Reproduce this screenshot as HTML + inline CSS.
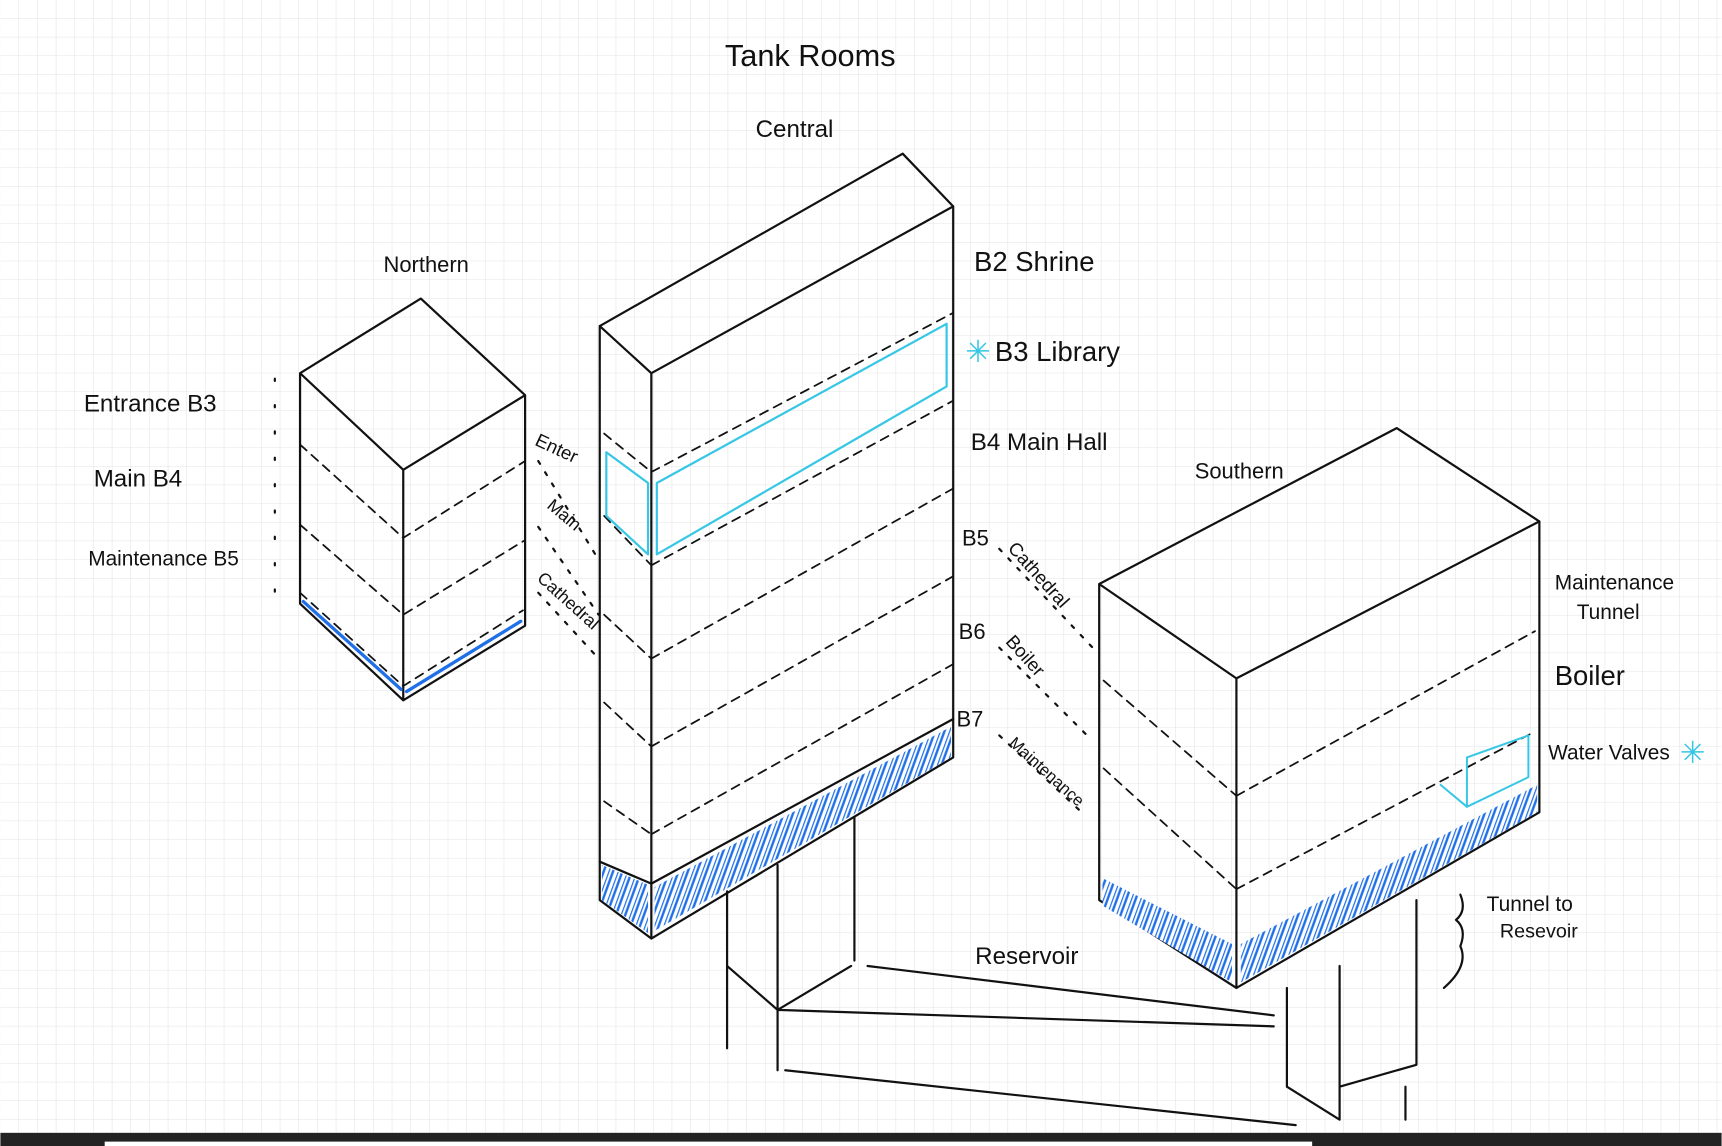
<!DOCTYPE html>
<html><head><meta charset="utf-8"><style>
html,body{margin:0;padding:0;background:#fff;width:1722px;height:1146px;overflow:hidden}
svg{display:block}
text{font-family:"Liberation Sans",sans-serif;fill:#111}
</style></head><body>
<svg width="1722" height="1146" viewBox="0 0 1568 1044" xmlns="http://www.w3.org/2000/svg">
<defs>
<pattern id="g" width="17" height="17" patternUnits="userSpaceOnUse">
<path d="M17 0V17H0" fill="none" stroke="#e3e3e6" stroke-width="1"/>
</pattern>
<pattern id="h" width="8" height="8" patternUnits="userSpaceOnUse" patternTransform="rotate(20)">
<rect width="8" height="8" fill="#fff"/>
<path d="M0 0V8M4 0V8" stroke="#1f6fe8" stroke-width="2.2"/>
</pattern>
</defs>
<rect width="1568" height="1044" fill="#fff"/>
<rect width="1568" height="1044" fill="url(#g)"/>
<rect y="1032" width="1568" height="12" fill="#222"/>
<rect x="95" y="1040" width="1100" height="4" fill="#fff"/>

<g fill="none" stroke="#111" stroke-width="2" stroke-linecap="round" stroke-linejoin="round">
<path d="M273 340L383 272L478 360L367 428ZM273 340V550L367 638V428M478 360V570L367 638"/>
<g stroke-dasharray="8 6" stroke-width="1.6">
<path d="M273 405L367 490L478 420M273 478L367 560L478 492M273 540L367 625L476 556"/>
</g>
<path d="M276 548L365 628M370 630L474 566" stroke="#1f6fe8" stroke-width="3"/>
<path d="M250 345V550" stroke-dasharray="2 22"/>

<path d="M546 297L822 140L868 188L593 340ZM546 297V820L593 855V340M868 188V690L593 855"/>
<path d="M546 785L593 805L868 655"/>
<polygon points="596,808 866,662 866,690 596,848" fill="url(#h)" stroke="none"/>
<polygon points="548,788 590,806 590,850 548,820" fill="url(#h)" stroke="none"/>
<g stroke-dasharray="8 6" stroke-width="1.6">
<path d="M593 430L868 285M593 515L868 365M593 600L868 445M593 680L868 525M593 760L868 605"/>
<path d="M550 395L593 430M550 470L593 515M550 560L593 600M550 640L593 680M550 730L593 760"/>
</g>
<path d="M598 440L862 295V352L598 505ZM552 412L590 440V505L552 470Z" stroke="#36c6e6" stroke-width="2"/>

<path d="M1001 532L1272 390L1402 475L1126 618ZM1001 532V820L1126 900V618M1402 475V740L1126 900"/>
<polygon points="1130,860 1400,715 1400,740 1130,895" fill="url(#h)" stroke="none"/>
<polygon points="1004,800 1122,860 1122,895 1004,825" fill="url(#h)" stroke="none"/>
<g stroke-dasharray="8 6" stroke-width="1.6">
<path d="M1126 725L1398 575M1126 810L1395 668M1005 620L1126 725M1005 700L1126 810"/>
</g>
<path d="M1336 690L1392 670V708L1336 735Z M1336 735L1312 715" stroke="#36c6e6" stroke-width="1.8"/>

<g stroke-dasharray="3 9" stroke-width="2">
<path d="M910 500L995 590M910 590L990 670M910 670L985 740M490 420L545 510M490 480L545 560M490 540L545 600"/>
</g>

<path d="M662 812V955M708 788V975M778 745V875M662 880L708 920L775 880M708 920L1160 935M715 975L1180 1025M790 880L1160 925M708 975V880"/>
<path d="M1172 900V990M1220 880V990L1290 970V820M1172 990L1220 1020V990M1220 1000V1020M1280 990V1020"/>
<path d="M1330 815Q1336 830 1326 838Q1336 846 1330 862Q1338 880 1315 900"/>
</g>

<text x="879" y="330" font-size="28" style="fill:#36c6e6">✳</text>
<text x="1530" y="695" font-size="28" style="fill:#36c6e6">✳</text>

<g font-size="22">
<text x="660" y="60" font-size="28">Tank  Rooms</text>
<text x="688" y="125">Central</text>
<text x="349" y="248" font-size="20">Northern</text>
<text x="1088" y="436" font-size="20">Southern</text>
<text x="76" y="375">Entrance  B3</text>
<text x="85" y="443">Main      B4</text>
<text x="80" y="515" font-size="19">Maintenance B5</text>
<text x="887" y="247" font-size="25">B2  Shrine</text>
<text x="906" y="329" font-size="25">B3   Library</text>
<text x="884" y="410">B4  Main Hall</text>
<text x="876" y="497" font-size="20">B5</text>
<text x="873" y="582" font-size="20">B6</text>
<text x="871" y="662" font-size="20">B7</text>
<text x="1416" y="537" font-size="19">Maintenance</text>
<text x="1436" y="564" font-size="19">Tunnel</text>
<text x="1416" y="624" font-size="25">Boiler</text>
<text x="1410" y="692" font-size="19">Water Valves</text>
<text x="888" y="878">Reservoir</text>
<text x="1354" y="830" font-size="19">Tunnel  to</text>
<text x="1366" y="854" font-size="18">Resevoir</text>
<text x="0" y="0" font-size="17" transform="translate(486,405) rotate(25)">Enter</text>
<text x="0" y="0" font-size="16" transform="translate(497,462) rotate(40)">Main</text>
<text x="0" y="0" font-size="16" transform="translate(488,528) rotate(42)">Cathedral</text>
<text x="0" y="0" font-size="17" transform="translate(917,500) rotate(48)">Cathedral</text>
<text x="0" y="0" font-size="17" transform="translate(915,585) rotate(48)">Boiler</text>
<text x="0" y="0" font-size="15" transform="translate(918,678) rotate(42)">Maintenance</text>
</g>
</svg>
</body></html>
